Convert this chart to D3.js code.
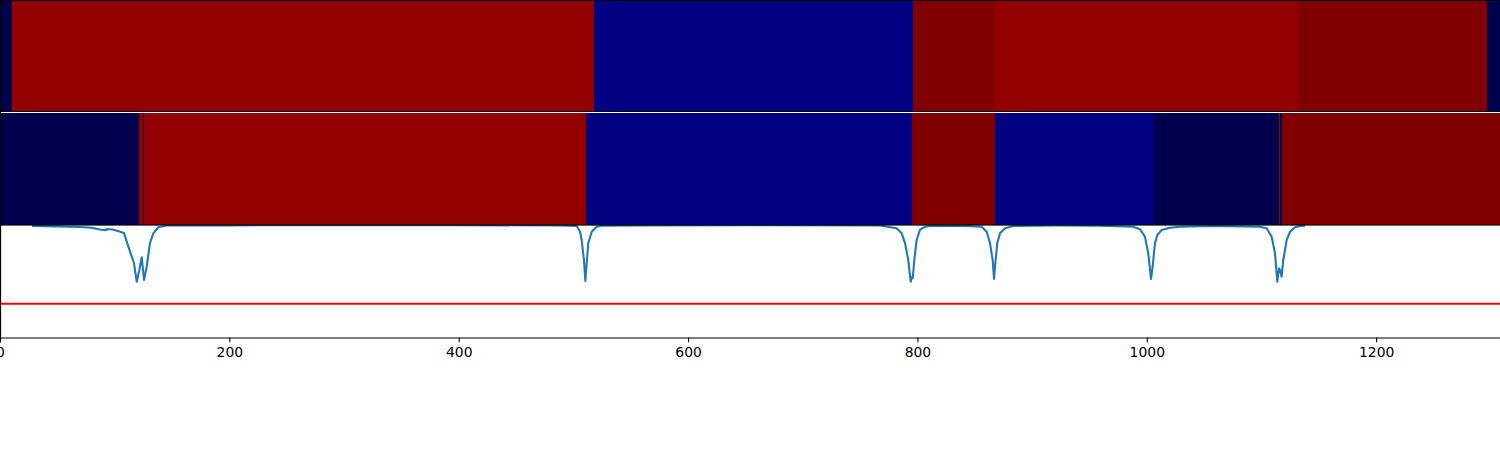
<!DOCTYPE html>
<html>
<head>
<meta charset="utf-8">
<script src="https://cdn.jsdelivr.net/npm/d3@7"></script>
<style>
html,body{margin:0;padding:0;background:#fff;}
svg{display:block;}
</style>
</head>
<body>
<svg id="chart" width="1500" height="450"></svg>
<script>
// ---- data ----
const xDomain = [0, 1308];
const xTicks = [0, 200, 400, 600, 800, 1000, 1200];

// top heatmap row: segment start, end, value (0..1 on a seismic colormap)
const row1Start = [0, 10.5, 518, 796, 868, 1132, 1297];
const row1End   = [10.5, 518, 796, 868, 1132, 1297, 1308];
const row1Value = [0, 0.965, 0.071, 1, 0.965, 1, 0];

// second heatmap row
const row2Start = [0, 121.2, 124.6, 125.5, 511, 795.3, 867.6, 1006.3, 1115.5, 1116.4, 1117.6];
const row2End   = [121.2, 124.6, 125.5, 511, 795.3, 867.6, 1006.3, 1115.5, 1116.4, 1117.6, 1308];
const row2Value = [0, 0.965, 0, 0.965, 0.071, 1, 0.071, 0, 0.965, 0, 1];

// line series
const lineX = [28, 50, 70, 80, 87, 92.4, 93, 98, 102.9, 108.1, 110.5, 113.4, 116.8, 119.2, 121.5, 123.6, 125.6, 127.9, 130.8, 133.7, 138, 145.4,
  200, 300, 400, 488.3, 502.9, 505.8, 507.2, 509.2, 510.4, 511.6, 513, 516, 520.3, 524.7,
  560, 650, 767.4, 781.9, 786.3, 789.2, 792, 794.1, 795, 795.9, 797.3, 799.3, 802.2, 806.6, 811,
  837.1, 856, 860.4, 863.3, 865.6, 866.8, 867.9, 869.6, 872, 876.4, 883.3,
  920, 959.2, 988.2, 994.1, 998.4, 1001.3, 1003.7, 1005.1, 1007.1, 1009.2, 1013, 1020.2, 1029, 1057.7, 1098.7,
  1104.5, 1108.9, 1111.8, 1113.8, 1115.3, 1116.2, 1117.6, 1119, 1122, 1124.9, 1129.2, 1133.6, 1138];
const lineY = [0.992, 0.988, 0.982, 0.975, 0.96, 0.953, 0.964, 0.96, 0.947, 0.929, 0.852, 0.763, 0.662, 0.496, 0.6, 0.713, 0.511, 0.629, 0.84, 0.926, 0.98, 0.995,
  0.997, 0.998, 0.998, 0.996, 0.991, 0.94, 0.867, 0.689, 0.502, 0.662, 0.84, 0.94, 0.985, 0.993,
  0.997, 0.998, 0.995, 0.971, 0.926, 0.837, 0.689, 0.496, 0.535, 0.527, 0.689, 0.867, 0.956, 0.985, 0.991,
  0.993, 0.985, 0.94, 0.837, 0.689, 0.52, 0.66, 0.837, 0.926, 0.971, 0.991,
  0.995, 0.993, 0.985, 0.962, 0.896, 0.748, 0.52, 0.629, 0.837, 0.911, 0.956, 0.976, 0.985, 0.991, 0.985,
  0.971, 0.896, 0.748, 0.496, 0.615, 0.6, 0.54, 0.689, 0.867, 0.94, 0.98, 0.991, 0.993];
const threshold = 0.3;

// ---- drawing ----
const W = 1500;
const svg = d3.select("#chart");
const x = d3.scaleLinear().domain(xDomain).range([0, W]);
const color = d3.scaleLinear()
  .domain([0, 0.25, 0.5, 0.75, 1])
  .range(["#00004d", "#0000ff", "#ffffff", "#ff0000", "#800000"]);

function drawRow(starts, ends, vals, y0, y1) {
  const g = svg.append("g");
  g.selectAll("rect").data(starts).join("rect")
    .attr("x", (d) => x(d))
    .attr("width", (d, i) => Math.max(0, x(ends[i]) - x(d)))
    .attr("y", y0)
    .attr("height", y1 - y0)
    .attr("fill", (d, i) => color(vals[i]))
    .attr("shape-rendering", "crispEdges");
}
drawRow(row1Start, row1End, row1Value, 0, 112);
drawRow(row2Start, row2End, row2Value, 113, 225);

// separators / spines for heatmaps
svg.append("rect").attr("x", 0).attr("y", 0).attr("width", W).attr("height", 1).attr("fill", "#000");
svg.append("rect").attr("x", 0).attr("y", 111).attr("width", W).attr("height", 1).attr("fill", "#000");
svg.append("rect").attr("x", 0).attr("y", 112).attr("width", W).attr("height", 1).attr("fill", "#fff");
svg.append("rect").attr("x", 0).attr("y", 0).attr("width", 1).attr("height", 225).attr("fill", "#000");

// line panel
const top3 = 225, bot3 = 337.5;
const y = d3.scaleLinear().domain([0, 1]).range([bot3, top3]);
svg.append("clipPath").attr("id", "clip3")
  .append("rect").attr("x", 0).attr("y", top3).attr("width", W).attr("height", bot3 - top3);
const g3 = svg.append("g").attr("clip-path", "url(#clip3)");
g3.append("line")
  .attr("x1", x(xDomain[0])).attr("x2", x(xDomain[1]))
  .attr("y1", y(threshold)).attr("y2", y(threshold))
  .attr("stroke", "#ff0000").attr("stroke-width", 2.08);
const pts = lineX.map((d, i) => [d, lineY[i]]);
g3.append("path").datum(pts)
  .attr("d", d3.line().x((d) => x(d[0])).y((d) => y(d[1])))
  .attr("fill", "none").attr("stroke", "#1f77b4").attr("stroke-width", 2.08)
  .attr("stroke-linejoin", "round").attr("stroke-linecap", "butt");

// spines panel 3
svg.append("rect").attr("x", 0).attr("y", 224.5).attr("width", W).attr("height", 1.1).attr("fill", "#000");
svg.append("rect").attr("x", 0).attr("y", 225).attr("width", 1.1).attr("height", 113).attr("fill", "#000");

// x axis
const axis = d3.axisBottom(x).tickValues(xTicks).tickSize(4.86).tickPadding(4.86).tickFormat(d3.format("d"));
const ax = svg.append("g").attr("transform", `translate(0,${bot3})`).call(axis);
ax.select(".domain").attr("stroke", "#000").attr("stroke-width", 1.1);
ax.selectAll(".tick line").attr("stroke", "#000").attr("stroke-width", 1.1);
ax.selectAll(".tick text").attr("fill", "#000")
  .style("font-family", "'DejaVu Sans', sans-serif").style("font-size", "13.9px");
</script>
</body>
</html>
